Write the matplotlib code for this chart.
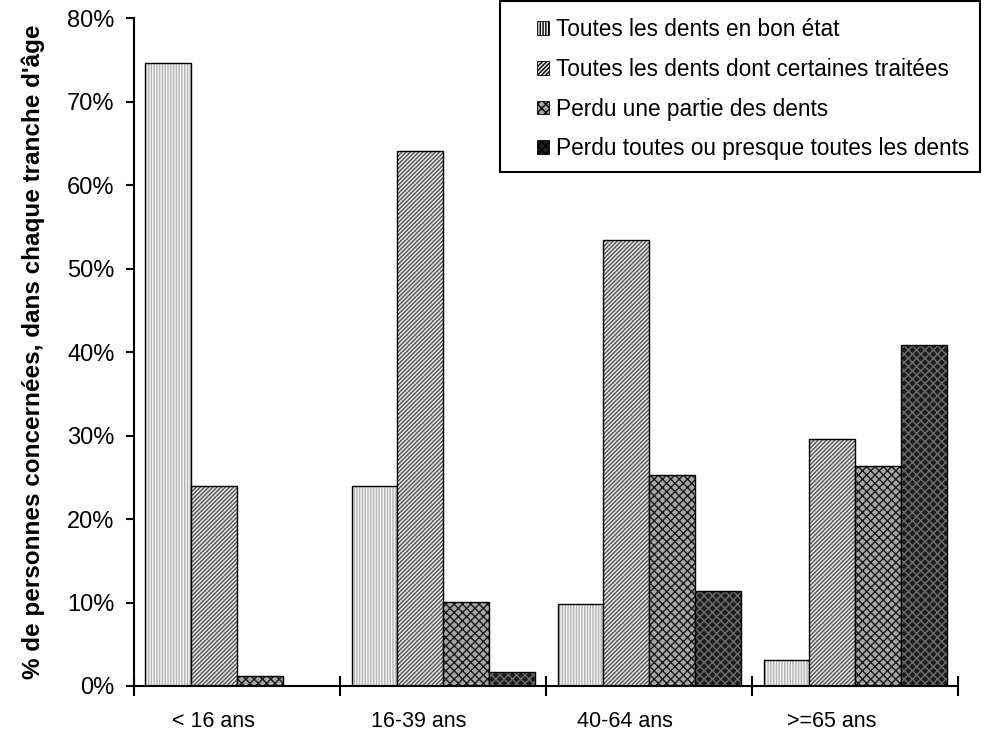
import numpy as np
import matplotlib.pyplot as plt
import matplotlib.transforms as mtransforms
from matplotlib.ticker import PercentFormatter

plt.rcParams['font.family'] = ['Liberation Sans', 'DejaVu Sans']

# Données
tranches = ['< 16 ans', '16-39 ans', '40-64 ans', '>=65 ans']
series = ['Toutes les dents en bon état',
          'Toutes les dents dont certaines traitées',
          'Perdu une partie des dents',
          'Perdu toutes ou presque toutes les dents']
bon_etat = [74.6, 24.0, 9.8, 3.1]
traitees = [24.0, 64.1, 53.4, 29.6]
partie = [1.2, 10.1, 25.3, 26.3]
toutes = [0.0, 1.7, 11.4, 40.9]
valeurs = [bon_etat, traitees, partie, toutes]

# Styles (fond, couleur de hachure, hachure)
styles = [('#f4f4f4', '#b4b4b4', '||||||'),
          ('#e6e6e6', '#555555', '////////'),
          ('#a6a6a6', '#1a1a1a', 'xxxx'),
          ('#1e1e1e', '#6e6e6e', 'xxxx')]

fig = plt.figure(figsize=(9.92, 7.31), dpi=100)
ax = fig.add_axes([0.135, 0.0616, 0.831, 0.9134])

x = np.arange(len(tranches))
w = 0.222
handles = []
for i, (vals, (fc, hc, hatch)) in enumerate(zip(valeurs, styles)):
    pos = x + (i - 1.5) * w
    ax.bar(pos, vals, w, color=fc, edgecolor=hc, hatch=hatch, linewidth=0)
    ax.bar(pos, vals, w, fill=False, edgecolor='black', linewidth=1.0)
    handles.append(plt.Rectangle((0, 0), 1, 1, facecolor=fc, edgecolor=hc,
                                 hatch=hatch, linewidth=0))

ax.set_xlim(-0.5, 3.5)
ax.set_ylim(0, 80)
ax.set_yticks(np.arange(0, 81, 10))
ax.yaxis.set_major_formatter(PercentFormatter(decimals=0))
ax.set_xticks(np.arange(-0.5, 3.6, 1))
ax.set_xticklabels([])
ax.set_xticks(x, minor=True)
ax.set_xticklabels(tranches, minor=True)
ax.tick_params(axis='x', which='major', direction='inout', length=14, width=1.5)
ax.tick_params(axis='x', which='minor', length=0, pad=18, labelsize=15.5)
ax.tick_params(axis='y', direction='out', length=6, width=1.5, labelsize=17,
               pad=8)
# les étiquettes de catégorie sont un peu décalées vers la gauche
decal = mtransforms.ScaledTranslation(-0.24, 0, fig.dpi_scale_trans)
for lab in ax.get_xticklabels(minor=True):
    lab.set_transform(lab.get_transform() + decal)
for s in ['top', 'right']:
    ax.spines[s].set_visible(False)
for s in ['left', 'bottom']:
    ax.spines[s].set_linewidth(1.5)

ax.set_ylabel("% de personnes concernées, dans chaque tranche d'âge",
              fontsize=17.5, fontweight='bold', labelpad=16)

# cadre de la légende
cadre = plt.Rectangle((500 / 992, 1 - 172 / 731), 480 / 992, 171 / 731,
                      transform=fig.transFigure, fill=False,
                      edgecolor='black', linewidth=1.5)
fig.add_artist(cadre)
leg = fig.legend(handles, series, loc='upper left',
                 bbox_to_anchor=(537 / 992, 1 - 18 / 731),
                 fontsize=16.3, frameon=False,
                 handlelength=0.55, handleheight=0.55, handletextpad=0.3,
                 labelspacing=0.74, borderpad=0, borderaxespad=0)
for hnd in leg.legend_handles:
    hnd.set_edgecolor('black')
    hnd.set_linewidth(0.6)

fig.savefig('out.png', dpi=100)
